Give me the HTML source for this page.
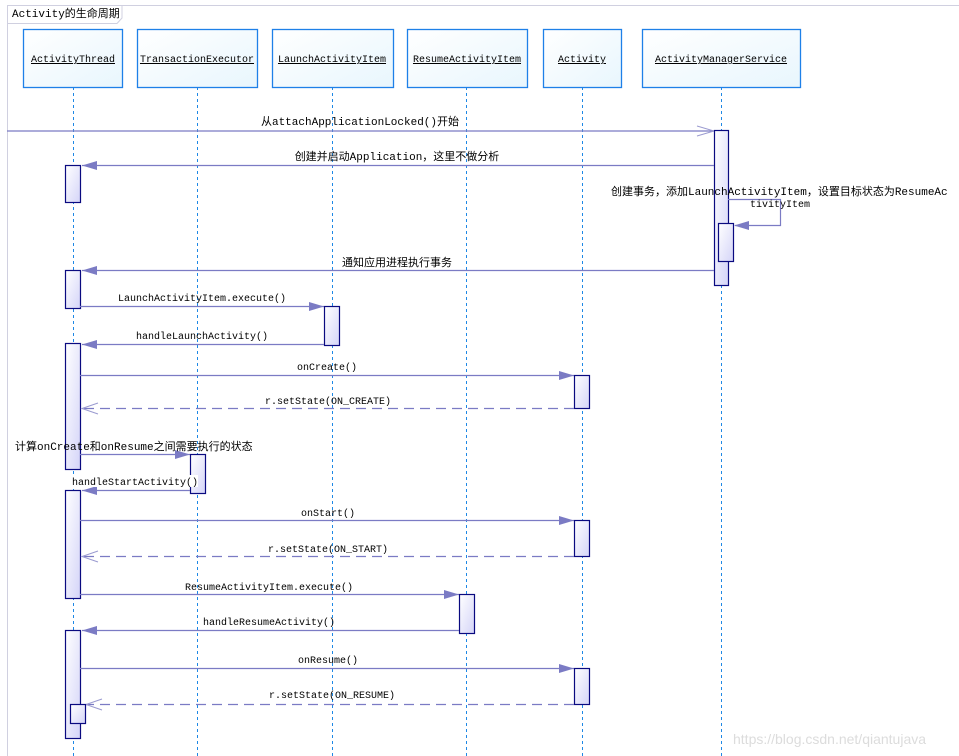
<!DOCTYPE html>
<html><head><meta charset="utf-8"><style>
html,body{margin:0;padding:0;background:#fff;}
svg{display:block;}
text{font-family:"Liberation Mono","Noto Sans CJK SC",monospace;font-size:10px;fill:#000;}
.cj{font-family:"Liberation Mono","Noto Sans CJK SC",monospace;font-size:11px;}
.ll{stroke:#1e88e5;stroke-width:1;stroke-dasharray:3,3;}
.m{stroke:#7b7bc4;stroke-width:1.2;fill:none;}
.d{stroke:#7b7bc4;stroke-width:1.2;fill:none;stroke-dasharray:10,6;}
.act{fill:url(#ag);stroke:#0a0a80;stroke-width:1.2;}
.hd{fill:url(#hg);stroke:#1e80e8;stroke-width:1.3;}
.ah{fill:#7b7bc4;}
</style></head><body>
<svg width="959" height="756" viewBox="0 0 959 756" xmlns="http://www.w3.org/2000/svg">
<defs>
<linearGradient id="ag" x1="0" y1="0" x2="1" y2="1"><stop offset="0" stop-color="#ffffff"/><stop offset="1" stop-color="#d4d4f8"/></linearGradient>
<linearGradient id="hg" x1="0" y1="0" x2="1" y2="1"><stop offset="0" stop-color="#ffffff"/><stop offset="1" stop-color="#e8f6fd"/></linearGradient>
</defs>
<!-- frame -->
<line x1="7.5" y1="5.5" x2="959" y2="5.5" stroke="#d0d0e0"/>
<line x1="7.5" y1="5" x2="7.5" y2="756" stroke="#d0d0e0"/>
<path d="M7.5 23.5 H117 L122 18 V5" stroke="#d0d0e0" fill="none"/>
<text x="12" y="17" class="cj">Activity的生命周期</text>

<!-- lifelines -->
<line class="ll" x1="73.5" y1="87" x2="73.5" y2="756"/>
<line class="ll" x1="197.5" y1="87" x2="197.5" y2="756"/>
<line class="ll" x1="332.5" y1="87" x2="332.5" y2="756"/>
<line class="ll" x1="466.5" y1="87" x2="466.5" y2="756"/>
<line class="ll" x1="582.5" y1="87" x2="582.5" y2="756"/>
<line class="ll" x1="721.5" y1="87" x2="721.5" y2="756"/>

<!-- heads -->
<rect class="hd" x="23.5" y="29.5" width="99" height="58"/>
<rect class="hd" x="137.5" y="29.5" width="120" height="58"/>
<rect class="hd" x="272.5" y="29.5" width="121" height="58"/>
<rect class="hd" x="407.5" y="29.5" width="120" height="58"/>
<rect class="hd" x="543.5" y="29.5" width="78" height="58"/>
<rect class="hd" x="642.5" y="29.5" width="158" height="58"/>
<g text-anchor="middle" text-decoration="underline">
<text x="73" y="62">ActivityThread</text>
<text x="197" y="62">TransactionExecutor</text>
<text x="332" y="62">LaunchActivityItem</text>
<text x="467" y="62">ResumeActivityItem</text>
<text x="582" y="62">Activity</text>
<text x="721" y="62">ActivityManagerService</text>
</g>

<!-- msg1 -->
<line class="m" x1="7" y1="131" x2="714" y2="131"/>
<path d="M697 126 L714 131 L697 136" stroke="#9a9ad0" fill="none"/>
<text x="360" y="125" text-anchor="middle" class="cj">从attachApplicationLocked()开始</text>
<rect class="act" x="714.5" y="130.5" width="14" height="155"/>

<!-- msg2 -->
<line class="m" x1="82" y1="165.5" x2="714" y2="165.5"/>
<polygon class="ah" points="82,165.5 97,161 97,170"/>
<text x="397" y="160" text-anchor="middle" class="cj">创建并启动Application，这里不做分析</text>
<rect class="act" x="65.5" y="165.5" width="15" height="37"/>

<!-- self msg -->
<path class="m" d="M728 199.5 H780.5 V225.5 H735"/>
<polygon class="ah" points="734,225.5 749,221 749,230"/>
<rect class="act" x="718.5" y="223.5" width="15" height="38"/>
<text x="611" y="195" class="cj">创建事务，添加LaunchActivityItem，设置目标状态为ResumeAc</text>
<text x="750" y="207">tivityItem</text>

<!-- msg4 -->
<line class="m" x1="82" y1="270.5" x2="714" y2="270.5"/>
<polygon class="ah" points="82,270.5 97,266 97,275"/>
<text x="397" y="266" text-anchor="middle" class="cj">通知应用进程执行事务</text>
<rect class="act" x="65.5" y="270.5" width="15" height="38"/>

<!-- msg5 -->
<line class="m" x1="80" y1="306.5" x2="324" y2="306.5"/>
<polygon class="ah" points="324,306.5 309,302 309,311"/>
<text x="202" y="301" text-anchor="middle">LaunchActivityItem.execute()</text>
<rect class="act" x="324.5" y="306.5" width="15" height="39"/>

<!-- msg6 -->
<line class="m" x1="82" y1="344.5" x2="324" y2="344.5"/>
<polygon class="ah" points="82,344.5 97,340 97,349"/>
<text x="202" y="339" text-anchor="middle">handleLaunchActivity()</text>
<rect class="act" x="65.5" y="343.5" width="15" height="126"/>

<!-- onCreate -->
<line class="m" x1="80" y1="375.5" x2="574" y2="375.5"/>
<polygon class="ah" points="574,375.5 559,371 559,380"/>
<text x="327" y="370" text-anchor="middle">onCreate()</text>
<rect class="act" x="574.5" y="375.5" width="15" height="33"/>
<line class="d" x1="574" y1="408.5" x2="82" y2="408.5"/>
<path d="M98 403 L82 408.5 L98 414" stroke="#9a9ad0" fill="none"/>
<text x="328" y="404" text-anchor="middle">r.setState(ON_CREATE)</text>

<!-- compute -->
<line class="m" x1="80" y1="454.5" x2="190" y2="454.5"/>
<polygon class="ah" points="190,454.5 175,450 175,459"/>
<text x="15" y="450" class="cj">计算onCreate和onResume之间需要执行的状态</text>
<rect class="act" x="190.5" y="454.5" width="15" height="39"/>
<line class="m" x1="82" y1="490.5" x2="190" y2="490.5"/>
<polygon class="ah" points="82,490.5 97,486 97,495"/>
<rect x="71" y="475" width="127" height="12" fill="#fff"/>
<text x="72" y="485">handleStartActivity()</text>
<rect class="act" x="65.5" y="490.5" width="15" height="108"/>

<!-- onStart -->
<line class="m" x1="80" y1="520.5" x2="574" y2="520.5"/>
<polygon class="ah" points="574,520.5 559,516 559,525"/>
<text x="328" y="516" text-anchor="middle">onStart()</text>
<rect class="act" x="574.5" y="520.5" width="15" height="36"/>
<line class="d" x1="574" y1="556.5" x2="82" y2="556.5"/>
<path d="M98 551 L82 556.5 L98 562" stroke="#9a9ad0" fill="none"/>
<text x="328" y="552" text-anchor="middle">r.setState(ON_START)</text>

<!-- resume execute -->
<line class="m" x1="80" y1="594.5" x2="459" y2="594.5"/>
<polygon class="ah" points="459,594.5 444,590 444,599"/>
<text x="269" y="590" text-anchor="middle">ResumeActivityItem.execute()</text>
<rect class="act" x="459.5" y="594.5" width="15" height="39"/>
<line class="m" x1="82" y1="630.5" x2="459" y2="630.5"/>
<polygon class="ah" points="82,630.5 97,626 97,635"/>
<text x="269" y="625" text-anchor="middle">handleResumeActivity()</text>
<rect class="act" x="65.5" y="630.5" width="15" height="108"/>

<!-- onResume -->
<line class="m" x1="80" y1="668.5" x2="574" y2="668.5"/>
<polygon class="ah" points="574,668.5 559,664 559,673"/>
<text x="328" y="663" text-anchor="middle">onResume()</text>
<rect class="act" x="574.5" y="668.5" width="15" height="36"/>
<line class="d" x1="574" y1="704.5" x2="86" y2="704.5"/>
<path d="M102 699 L86 704.5 L102 710" stroke="#9a9ad0" fill="none"/>
<text x="332" y="698" text-anchor="middle">r.setState(ON_RESUME)</text>
<rect class="act" x="70.5" y="704.5" width="15" height="19"/>

<text x="733" y="744" style="font-family:'Liberation Sans',sans-serif;font-size:14px;fill:#dcdcdc;">https://blog.csdn.net/qiantujava</text>
</svg>
</body></html>
